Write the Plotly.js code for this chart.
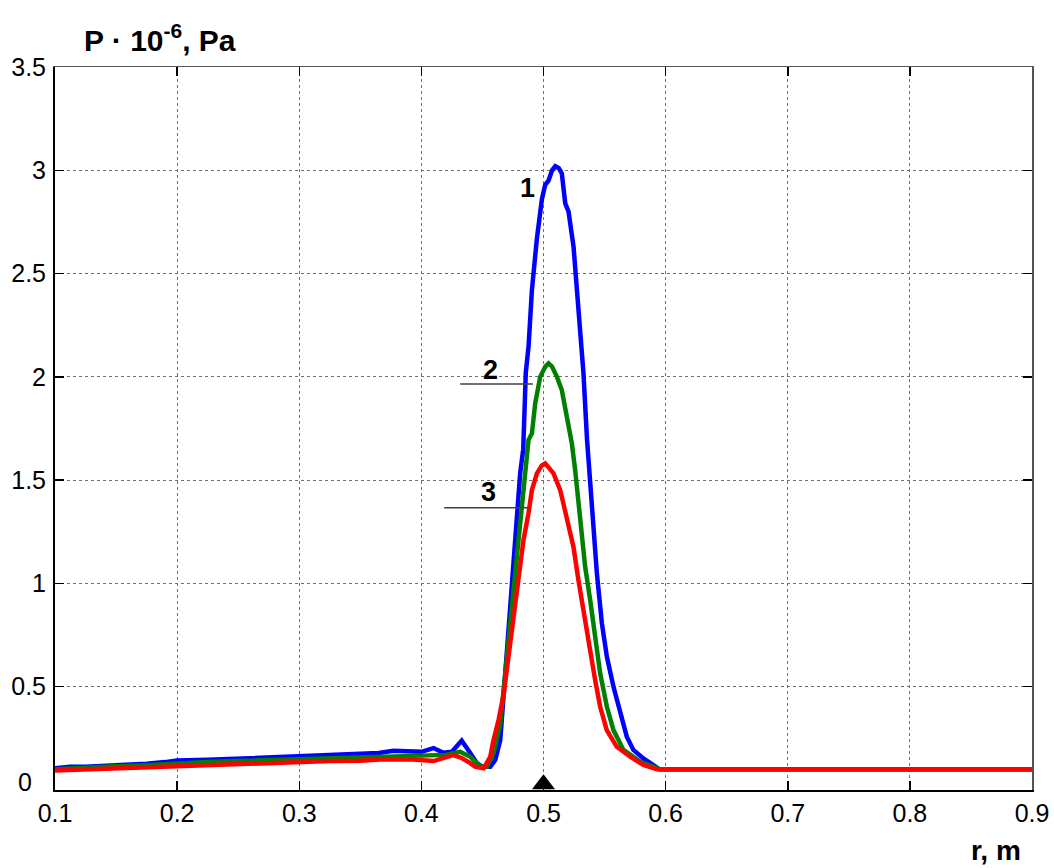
<!DOCTYPE html>
<html>
<head>
<meta charset="utf-8">
<script src="https://cdn.plot.ly/plotly-3.0.1.min.js"></script>
<style>
  html, body { margin: 0; padding: 0; background: #ffffff; }
  #chart { width: 1054px; height: 868px; }
</style>
</head>
<body>
<div id="chart"></div>
<script>
// Radial pressure profiles, P·10^-6 in Pa against r in m.
// Curve 1 (blue)
var r1 = [0.100,0.112,0.125,0.150,0.175,0.190,0.200,0.225,0.250,0.275,0.300,0.325,0.350,0.365,0.377,0.390,0.400,0.410,0.418,0.425,
          0.433,0.440,0.4455,0.4496,0.4564,0.4605,0.4646,0.4687,0.4727,0.4768,0.4809,0.4834,0.4855,0.4878,0.4905,0.4946,0.4987,0.5014,0.5041,0.5070,
          0.5096,0.5125,0.5150,0.5178,0.5205,0.5246,0.5286,0.5327,0.5356,0.5375,0.5396,0.5437,0.5478,0.5519,0.5573,0.5628,0.5682,0.5736,0.5818,0.5900,
          0.5950,0.9000];
var p1 = [0.105,0.112,0.113,0.118,0.127,0.135,0.143,0.146,0.152,0.156,0.162,0.166,0.172,0.179,0.190,0.186,0.185,0.203,0.180,0.185,
          0.239,0.179,0.130,0.113,0.113,0.145,0.242,0.565,0.887,1.210,1.533,1.650,2.020,2.150,2.420,2.670,2.860,2.930,2.950,3.000,
          3.020,3.010,2.985,2.840,2.800,2.630,2.340,2.020,1.700,1.550,1.370,1.050,0.807,0.645,0.500,0.371,0.258,0.194,0.153,0.121,
          0.100,0.100];

// Curve 2 (green)
var r2 = [0.100,0.125,0.150,0.175,0.200,0.225,0.250,0.275,0.300,0.325,0.350,0.366,0.385,0.400,0.420,0.4318,0.440,0.448,0.4537,0.4591,
          0.4646,0.4687,0.4727,0.4782,0.4823,0.4864,0.4877,0.4905,0.4932,0.4973,0.5015,0.5041,0.5070,0.5110,0.5150,0.5191,0.5232,0.5259,0.5300,0.5341,
          0.5382,0.5423,0.5464,0.5519,0.5573,0.5655,0.5791,0.5900,0.5950,0.9000];
var p2 = [0.100,0.110,0.115,0.120,0.130,0.135,0.140,0.145,0.150,0.155,0.160,0.161,0.166,0.169,0.170,0.185,0.161,0.113,0.113,0.178,
          0.323,0.565,0.807,1.129,1.371,1.581,1.694,1.726,1.872,2.000,2.050,2.065,2.050,2.000,1.936,1.807,1.678,1.550,1.291,1.081,
          0.920,0.758,0.565,0.403,0.290,0.194,0.137,0.113,0.100,0.100];

// Curve 3 (red)
var r3 = [0.100,0.125,0.150,0.175,0.200,0.225,0.250,0.275,0.300,0.325,0.350,0.366,0.393,0.410,0.426,0.433,0.440,0.444,0.451,0.4564,
          0.4591,0.4632,0.4675,0.4714,0.4755,0.4795,0.4836,0.4877,0.4905,0.4946,0.4985,0.5014,0.5045,0.5082,0.5137,0.5191,0.5245,0.5286,0.5327,0.5368,
          0.5423,0.5464,0.5518,0.5600,0.5710,0.5818,0.5928,0.9000];
var p3 = [0.095,0.100,0.105,0.110,0.120,0.125,0.129,0.130,0.135,0.140,0.142,0.148,0.148,0.140,0.169,0.155,0.130,0.113,0.105,0.161,
          0.242,0.339,0.468,0.645,0.807,1.016,1.210,1.339,1.452,1.533,1.570,1.581,1.560,1.533,1.452,1.307,1.178,1.016,0.855,0.726,
          0.532,0.403,0.290,0.209,0.161,0.121,0.100,0.100];

// Curve labels and their leader lines
var curveLabels = ["1", "2", "3"];
var labelR = [0.4867, 0.4570, 0.4550];
var labelP = [2.914, 2.033, 1.444];
var leaderR0 = [null, 0.4318, 0.4187];
var leaderR1 = [null, 0.4913, 0.4885];
var leaderP = [null, 1.965, 1.366];

// Marked radius on the r axis
var markR = [0.5];
var markP = [0.028];

var xTicks = [0.1, 0.2, 0.3, 0.4, 0.5, 0.6, 0.7, 0.8, 0.9];
var xTickText = ["0.1", "0.2", "0.3", "0.4", "0.5", "0.6", "0.7", "0.8", "0.9"];
// the zero label of P sits apart from the others, so it is placed separately
var yTicks = [0, 0.5, 1, 1.5, 2, 2.5, 3, 3.5];
var yTickText = ["", "0.5", "1", "1.5", "2", "2.5", "3", "3.5"];
var yZeroText = "0";

var FONT = "Arial, 'Liberation Sans', sans-serif";

var traces = [
  { x: r1, y: p1, mode: "lines", line: { color: "#0000ff", width: 4.5 }, hoverinfo: "x+y" },
  { x: r2, y: p2, mode: "lines", line: { color: "#008000", width: 4.5 }, hoverinfo: "x+y" },
  { x: r3, y: p3, mode: "lines", line: { color: "#ff0000", width: 4.5 }, hoverinfo: "x+y" },
  { x: markR, y: markP, mode: "markers", cliponaxis: false,
    marker: { symbol: "triangle-up", size: 20, color: "#000000" }, hoverinfo: "skip" }
];

var annotations = curveLabels.map(function (t, i) {
  return { x: labelR[i], y: labelP[i], xref: "x", yref: "y", text: "<b>" + t + "</b>",
           showarrow: false, font: { family: FONT, size: 27, color: "#000000" },
           xanchor: "center", yanchor: "middle" };
});
annotations.push({
  xref: "paper", yref: "paper", x: 0.991, y: -0.083, text: "<b>r, m</b>",
  showarrow: false, xanchor: "right", yanchor: "middle",
  font: { family: FONT, size: 28, color: "#000000" }
});
annotations.push({
  xref: "paper", yref: "y", x: -0.022, y: 0.04, text: yZeroText,
  showarrow: false, xanchor: "right", yanchor: "middle",
  font: { family: FONT, size: 25, color: "#000000" }
});

var shapes = [];
for (var i = 0; i < curveLabels.length; i++) {
  if (leaderR0[i] === null) continue;
  shapes.push({ type: "line", xref: "x", yref: "y",
                x0: leaderR0[i], x1: leaderR1[i], y0: leaderP[i], y1: leaderP[i],
                line: { color: "#404040", width: 1.5 } });
}

var axisCommon = {
  showgrid: true, gridcolor: "#707070", gridwidth: 1, griddash: "dot",
  zeroline: false, showline: true, linecolor: "#000000", linewidth: 2,
  ticks: "inside", ticklen: 9, tickwidth: 1.5, tickcolor: "#000000",
  tickfont: { family: FONT, size: 25, color: "#000000" }, fixedrange: true
};

var layout = {
  width: 1054, height: 868,
  margin: { l: 55, r: 22, t: 67, b: 78 },
  paper_bgcolor: "#ffffff", plot_bgcolor: "#ffffff",
  showlegend: false,
  title: {
    text: "<b>P · 10<sup>-6</sup>, Pa</b>",
    font: { family: FONT, size: 30, color: "#000000" },
    xref: "container", yref: "container",
    x: 84 / 1054, xanchor: "left",
    y: 1 - 40 / 868, yanchor: "middle"
  },
  xaxis: Object.assign({}, axisCommon, {
    range: [0.1, 0.9], tickvals: xTicks, ticktext: xTickText, ticklabelstandoff: 0
  }),
  yaxis: Object.assign({}, axisCommon, {
    range: [0, 3.5], tickvals: yTicks, ticktext: yTickText, ticklabelstandoff: 2
  }),
  // thin frame on top and right with inward ticks
  xaxis2: { overlaying: "x", matches: "x", side: "top", range: [0.1, 0.9], tickvals: xTicks,
            showticklabels: false, showgrid: false, zeroline: false, showline: true,
            linecolor: "#555555", linewidth: 1, ticks: "inside", ticklen: 9, tickwidth: 1.5,
            tickcolor: "#000000", fixedrange: true },
  yaxis2: { overlaying: "y", matches: "y", side: "right", range: [0, 3.5], tickvals: yTicks,
            showticklabels: false, showgrid: false, zeroline: false, showline: true,
            linecolor: "#555555", linewidth: 1.5, ticks: "inside", ticklen: 9, tickwidth: 1.5,
            tickcolor: "#000000", fixedrange: true },
  annotations: annotations,
  shapes: shapes
};

// invisible trace that anchors the secondary frame axes
traces.push({ x: [0.1], y: [0], xaxis: "x2", yaxis: "y2", mode: "markers",
              marker: { opacity: 0 }, hoverinfo: "skip" });

Plotly.newPlot("chart", traces, layout, { displayModeBar: false, staticPlot: true });
</script>
</body>
</html>
